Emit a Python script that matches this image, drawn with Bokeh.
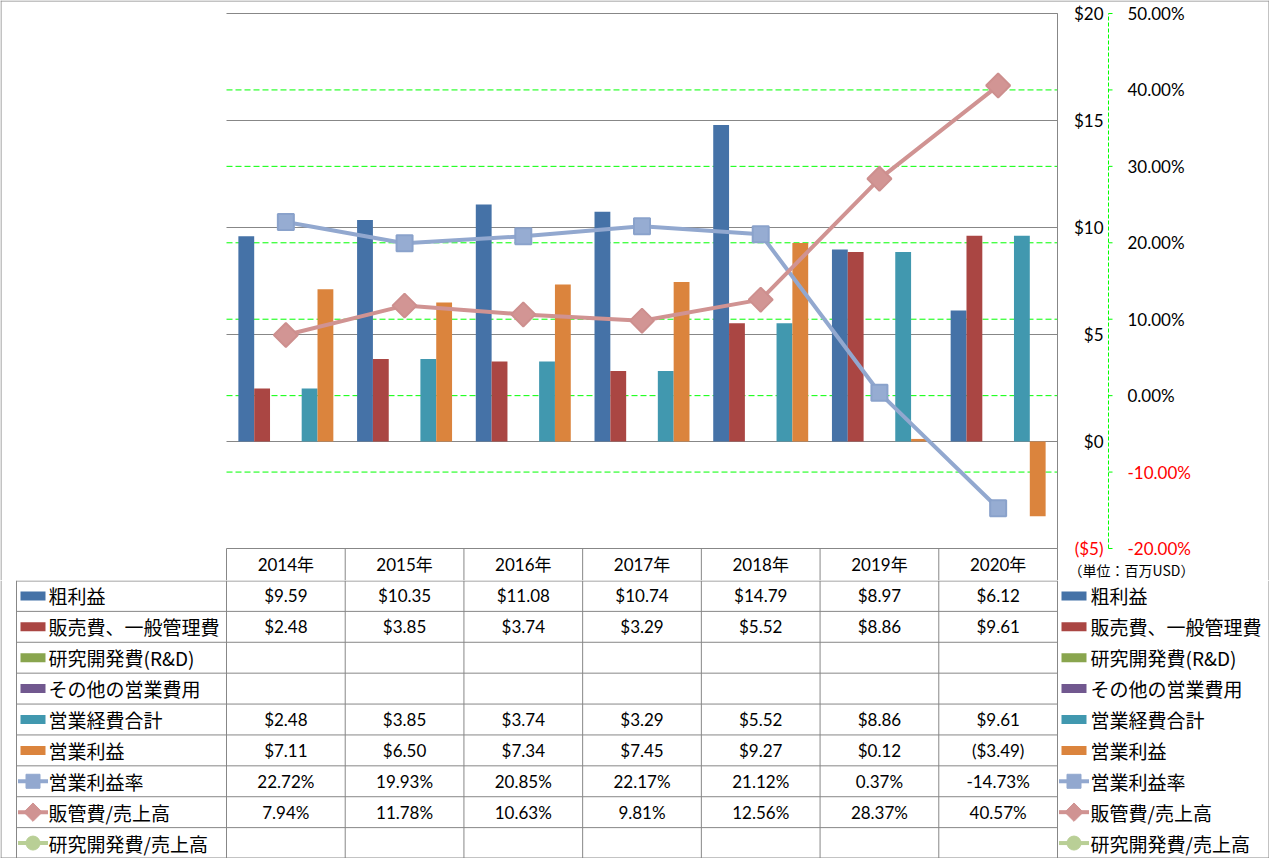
import math
from bokeh.plotting import figure
from bokeh.models import Range1d
from bokeh.embed import file_html
from bokeh.resources import INLINE
from bokeh.core.properties import value

# ---------------- data ----------------
years = ["2014年", "2015年", "2016年", "2017年", "2018年", "2019年", "2020年"]
gross_profit = [9.59, 10.35, 11.08, 10.74, 14.79, 8.97, 6.12]
sga = [2.48, 3.85, 3.74, 3.29, 5.52, 8.86, 9.61]
rnd = [None] * 7
other_opex = [None] * 7
total_opex = [2.48, 3.85, 3.74, 3.29, 5.52, 8.86, 9.61]
operating_income = [7.11, 6.50, 7.34, 7.45, 9.27, 0.12, -3.49]
op_margin = [22.72, 19.93, 20.85, 22.17, 21.12, 0.37, -14.73]
sga_ratio = [7.94, 11.78, 10.63, 9.81, 12.56, 28.37, 40.57]
rnd_ratio = [None] * 7

bar_names = ["粗利益", "販売費、一般管理費", "研究開発費(R&D)", "その他の営業費用", "営業経費合計", "営業利益"]
line_names = ["営業利益率", "販管費/売上高", "研究開発費/売上高"]
usd_ticks = [-5, 0, 5, 10, 15, 20]
usd_tick_labels = ["($5)", "$0", "$5", "$10", "$15", "$20"]
pct_ticks = [-20, -10, 0, 10, 20, 30, 40, 50]
pct_tick_labels = ["-20.00%", "-10.00%", "0.00%", "10.00%", "20.00%", "30.00%", "40.00%", "50.00%"]
unit_note = "（単位：百万USD）"

bar_series = [gross_profit, sga, rnd, other_opex, total_opex, operating_income]
bar_colors = ["#4572A7", "#AA4643", "#89A54E", "#71588F", "#4198AF", "#DB843D"]
line_series = [op_margin, sga_ratio, rnd_ratio]
line_colors = ["#92A8CF", "#D09392", "#B9CF96"]
line_markers = ["square", "diamond", "circle"]

# ---------------- layout constants (pixels) ----------------
W, H = 1269, 858
FL, FR = 226, 1057          # plot area left / right
FT, FB = 13, 548            # plot area top / bottom
HEAD = 32                   # year header row height
HA = FB + HEAD
HB = H - HA
n = len(years)
unit = (FR - FL) / n
USD0, USD1 = -5, 20
PCT0, PCT1 = -20, 50
ppu = (FB - FT) / (USD1 - USD0)
ppp = (FB - FT) / (PCT1 - PCT0)
xb0 = -0.5 - FL / unit
xb1 = n - 0.5 + (W - FR) / unit


def xa(px):
    """screen px -> x data units"""
    return -0.5 + (px - FL) / unit


def ya(py):
    """screen px (chart figure) -> dollar units"""
    return USD1 - (py - FT) / ppu


LAT = "Lato"
CJK = "Noto Sans CJK JP"
GRAY = "#878787"
GREEN = "#00FF00"

common = dict(output_backend="svg", toolbar_location=None, x_axis_location=None,
              y_axis_location=None, min_border=0, min_border_left=0, min_border_right=0,
              min_border_top=0, min_border_bottom=0, outline_line_color=None,
              background_fill_color="white", border_fill_color="white")

# ---------------- chart figure ----------------
p = figure(width=W, height=HA,
           x_range=Range1d(xb0, xb1),
           y_range=Range1d(ya(HA), ya(0)), **common)
p.extra_y_ranges = {"pct": Range1d(PCT0 - HEAD / ppp, PCT1 + FT / ppp)}
p.xgrid.visible = False
p.ygrid.visible = False

# outer frame (top, left, right)
p.segment(x0=[xa(0.5), xa(W - 0.5), xa(0)], y0=[ya(0), ya(0), ya(0.5)],
          x1=[xa(0.5), xa(W - 0.5), xa(W)], y1=[ya(HA), ya(HA), ya(0.5)],
          line_color=GRAY, line_width=1)

# percent gridlines (green dashed)
pg = [v for v in pct_ticks if PCT0 < v < PCT1]
p.segment(x0=[-0.5] * len(pg), y0=pg, x1=[n - 0.5] * len(pg), y1=pg, y_range_name="pct",
          line_color=GREEN, line_width=1, line_dash="6 3")
# dollar gridlines (gray)
p.segment(x0=[-0.5] * len(usd_ticks), y0=usd_ticks, x1=[n - 0.5] * len(usd_ticks),
          y1=usd_ticks, line_color=GRAY, line_width=1)

# bars
bw = 0.8 / len(bar_series)
for j, (vals, col) in enumerate(zip(bar_series, bar_colors)):
    xs = [i + (j - 2.5) * bw for i in range(n) if vals[i] is not None]
    tops = [v for v in vals if v is not None]
    if xs:
        p.vbar(x=xs, top=tops, bottom=0, width=bw, fill_color=col, line_color=None)

# lines
xs = list(range(n))
p.line(xs, op_margin, y_range_name="pct", line_color=line_colors[0], line_width=4)
p.scatter(xs, op_margin, y_range_name="pct", marker="square", size=16,
          fill_color="#96ACD2", line_color="#8AA2CB", line_width=2)
p.line(xs, sga_ratio, y_range_name="pct", line_color=line_colors[1], line_width=4)
p.scatter(xs, sga_ratio, y_range_name="pct", marker="square", angle=math.pi / 4, size=17,
          fill_color="#D29594", line_color="#CD8F8E", line_width=2)

# dollar axis (right of plot area)
p.segment(x0=[n - 0.5], y0=[USD0], x1=[n - 0.5], y1=[USD1], line_color=GRAY, line_width=1)
p.segment(x0=[xa(FR - 4)] * len(usd_ticks), y0=usd_ticks, x1=[n - 0.5] * len(usd_ticks),
          y1=usd_ticks, line_color=GRAY, line_width=1)
p.text(x=[xa(1103)] * len(usd_ticks), y=usd_ticks, text=usd_tick_labels,
       text_color=["red" if v < 0 else "black" for v in usd_ticks],
       text_font=value(LAT), text_font_size="17px", text_align="right",
       text_baseline="middle")

# percent axis
PX = 1108
p.segment(x0=[xa(PX)], y0=[PCT0], x1=[xa(PX)], y1=[PCT1], y_range_name="pct",
          line_color=GREEN, line_width=1, line_dash="4 2")
p.segment(x0=[xa(PX)] * len(pct_ticks), y0=pct_ticks, x1=[xa(PX + 4)] * len(pct_ticks),
          y1=pct_ticks, y_range_name="pct", line_color=GREEN, line_width=1)
p.text(x=[xa(1127)] * len(pct_ticks), y=pct_ticks, y_range_name="pct", text=pct_tick_labels,
       text_color=["red" if v < 0 else "black" for v in pct_ticks],
       text_font=value(LAT), text_font_size="17px", text_align="left",
       text_baseline="middle")

# year header row of the data table
vx = [i - 0.5 for i in range(n + 1)]
p.segment(x0=vx, y0=[USD0] * len(vx), x1=vx, y1=[ya(HA)] * len(vx),
          line_color=GRAY, line_width=1)
p.text(x=list(range(n)), y=[ya(FB + 16)] * n, text=years,
       text_font=value("Lato, 'Noto Sans CJK JP'"), text_font_size="17px",
       text_align="center", text_baseline="middle", text_color="black")
p.text(x=[xa(1068)], y=[ya(FB + 21)], text=[unit_note], text_font=value(CJK),
       text_font_size="14px", text_align="left", text_baseline="middle", text_color="black")

# ---------------- data table figure ----------------
NR = 9
rowpx = HB / NR
t = figure(width=W, height=HB, x_range=Range1d(xb0, xb1), y_range=Range1d(NR, 0), **common)
t.xgrid.visible = False
t.ygrid.visible = False

xL = xa(16)
hy = [0.5 / rowpx] + list(range(1, NR))
t.segment(x0=[xL] * NR, y0=hy, x1=[n - 0.5] * NR, y1=hy, line_color=GRAY, line_width=1)
vxt = [xL] + vx
t.segment(x0=vxt, y0=[0] * len(vxt), x1=vxt, y1=[NR] * len(vxt), line_color=GRAY, line_width=1)
# outer frame (bottom, left, right)
t.segment(x0=[xb0, xa(0.5), xa(W - 0.5)], y0=[NR - 0.5 / rowpx, 0, 0],
          x1=[xb1, xa(0.5), xa(W - 0.5)], y1=[NR - 0.5 / rowpx, NR, NR],
          line_color=GRAY, line_width=1)


def fmt_usd(v):
    if v is None:
        return ""
    return f"${v:.2f}" if v >= 0 else f"(${-v:.2f})"


def fmt_pct(v):
    if v is None:
        return ""
    return f"{v:.2f}%"


rows = [[fmt_usd(v) for v in s] for s in bar_series] + [[fmt_pct(v) for v in s] for s in line_series]
for k, r in enumerate(rows):
    xs_ = [i for i in range(n) if r[i]]
    tx = [r[i] for i in range(n) if r[i]]
    if xs_:
        t.text(x=xs_, y=[0.5 + k] * len(xs_), text=tx, text_font=value(LAT),
               text_font_size="17px", text_align="center", text_baseline="middle",
               text_color="black")

names = bar_names + line_names
for (kx, tx_) in [(32.5, 48), (1073.5, 1090)]:
    ky = [0.5 + k for k in range(6)]
    t.rect(x=[xa(kx)] * 6, y=ky, width=25, height=9, width_units="screen",
           height_units="screen", fill_color=bar_colors, line_color=None)
    for m in range(3):
        yy = 6.5 + m
        t.segment(x0=[xa(kx - 15)], y0=[yy], x1=[xa(kx + 15)], y1=[yy],
                  line_color=line_colors[m], line_width=4)
        if line_markers[m] == "diamond":
            t.scatter([xa(kx)], [yy], marker="square", angle=math.pi / 4, size=13,
                      fill_color=line_colors[m], line_color=line_colors[m])
        else:
            t.scatter([xa(kx)], [yy], marker=line_markers[m], size=14,
                      fill_color=line_colors[m], line_color=line_colors[m])
    t.text(x=[xa(tx_)] * 9, y=[0.5 + k for k in range(9)], text=names,
           text_font=value(CJK), text_font_size="19px", text_align="left",
           text_baseline="middle", text_color="black")

open("out.html", "w").write(file_html([p, t], INLINE))
